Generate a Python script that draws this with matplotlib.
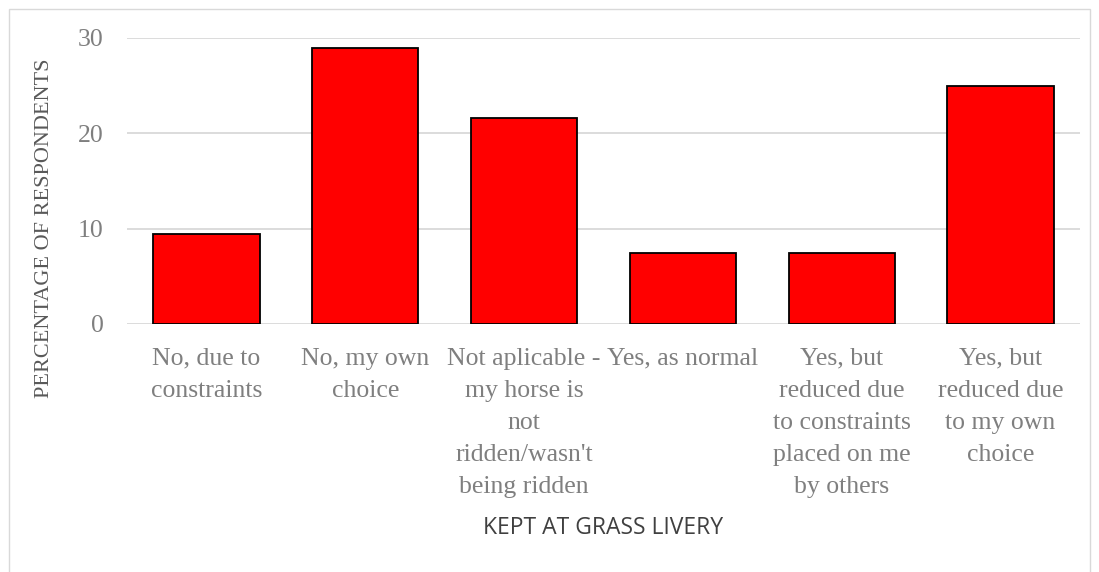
import matplotlib
matplotlib.use("Agg")
import matplotlib.pyplot as plt
from matplotlib.patches import Rectangle

categories = [
    "No, due to\nconstraints",
    "No, my own\nchoice",
    "Not aplicable -\nmy horse is\nnot\nridden/wasn't\nbeing ridden",
    "Yes, as normal",
    "Yes, but\nreduced due\nto constraints\nplaced on me\nby others",
    "Yes, but\nreduced due\nto my own\nchoice",
]
values = [9.4, 28.9, 21.6, 7.5, 7.5, 25.0]
yticks = [0, 10, 20, 30]

serif = ["Liberation Serif", "DejaVu Serif"]
grey = "#7f7f7f"

fig = plt.figure(figsize=(10.99, 5.72), dpi=100)
ax = fig.add_axes([127 / 1099, 1 - 324 / 572, (1080 - 127) / 1099, (324 - 38) / 572])

x = range(len(categories))
ax.bar(x, values, width=0.67, color="#ff0000", edgecolor="black", linewidth=1.3, zorder=3)

ax.set_ylim(0, 30)
ax.set_xlim(-0.5, len(categories) - 0.5)
ax.set_yticks(yticks)
ax.set_yticklabels([str(t) for t in yticks], family=serif, fontsize=18.5, color=grey)
ax.set_xticks(list(x))
ax.set_xticklabels(categories, family=serif, fontsize=18.5, color=grey, linespacing=1.6, va="top")
ax.tick_params(axis="both", length=0)
ax.tick_params(axis="x", pad=17)
ax.tick_params(axis="y", pad=17)
ax.grid(axis="y", color="#d9d9d9", linewidth=1.3, zorder=0)
for s in ax.spines.values():
    s.set_visible(False)

fig.text(45 / 1099, 1 - 228 / 572, "PERCENTAGE OF RESPONDENTS", rotation=90,
         ha="center", va="center", family=serif, fontsize=16, color="#595959")
fig.text(603 / 1099, 1 - 528 / 572, "KEPT AT GRASS LIVERY", ha="center", va="center",
         family=["Open Sans", "DejaVu Sans"], fontsize=16.5, color="#404040")

# chart border
fig.patches.append(Rectangle((9 / 1099, -0.01), (1090 - 9) / 1099, 1 - 9 / 572 + 0.01,
                             transform=fig.transFigure, fill=False, edgecolor="#d9d9d9", linewidth=1))

fig.savefig("out.png", dpi=100)
